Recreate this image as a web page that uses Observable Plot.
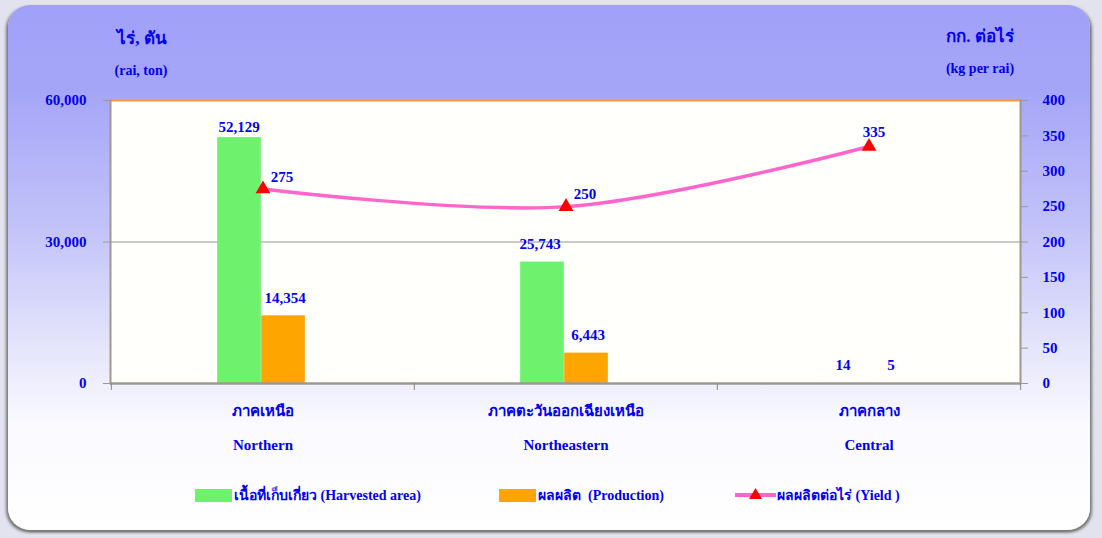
<!DOCTYPE html>
<html><head><meta charset="utf-8">
<script src="https://cdn.jsdelivr.net/npm/d3@7"></script>
<script src="https://cdn.jsdelivr.net/npm/@observablehq/plot@0.6"></script>
<style>
html,body{margin:0;padding:0;}
body{background:#e3e3ef;width:1102px;height:538px;overflow:hidden;position:relative;font-family:"Liberation Serif",serif;}
#panel{position:absolute;left:8px;top:5px;width:1082px;height:525px;border-radius:22px;
 background:linear-gradient(to bottom,#a0a0f8 0%,#a5a5f8 16%,#c2c2f9 42%,#e6e6fc 66%,#fafaff 80%,#ffffff 100%);
 box-shadow:-2px 2px 3px #777, 2px 2px 3px #777;}
#chart{position:absolute;left:0;top:0;}
.lab{position:absolute;color:#0000ee;font-weight:bold;white-space:nowrap;transform:translate(-50%,-50%);}
#legend{position:absolute;top:484px;left:0;width:1102px;height:20px;}
.li{position:absolute;top:0;display:flex;align-items:center;color:#0000ee;font-weight:bold;font-size:14px;white-space:pre;}
.sw{width:37px;height:13px;display:inline-block;margin-right:2px;}
</style></head>
<body>
<div id="panel"></div>
<div class="lab" style="left:142px;top:37px;font-size:17px;">ไร่, ตัน</div>
<div class="lab" style="left:141px;top:71px;font-size:14px;">(rai, ton)</div>
<div class="lab" style="left:980px;top:35px;font-size:17px;">กก. ต่อไร่</div>
<div class="lab" style="left:980px;top:69px;font-size:14px;">(kg per rai)</div>
<div id="chart"></div>
<div id="legend"></div>
<script>
const regionsThai = ["ภาคเหนือ", "ภาคตะวันออกเฉียงเหนือ", "ภาคกลาง"];
const regionsEn = ["Northern", "Northeastern", "Central"];
const harvestedArea = [52129, 25743, 14];
const production = [14354, 6443, 5];
const yieldPerRai = [275, 250, 335];
const leftTicks = [0, 30000, 60000];
const rightTicks = [0, 50, 100, 150, 200, 250, 300, 350, 400];
const seriesNames = ["เนื้อที่เก็บเกี่ยว (Harvested area)", "ผลผลิต  (Production)", "ผลผลิตต่อไร่ (Yield )"];

const rows = regionsEn.map((r, i) => ({region: r, thai: regionsThai[i], area: harvestedArea[i], prod: production[i], yld: yieldPerRai[i]}));
const K = 60000 / 400;
const W = 1102, H = 470, mL = 110, mR = 82, mT = 100, mB = 87;
const bw = (W - mL - mR) / 3;
const barW = 44;
const sh = 1.5;
const blue = "#0000ee";
const font = {fill: blue, fontWeight: "bold", fontFamily: "Liberation Serif", fontSize: 15};

const chart = Plot.plot({
  width: W, height: H,
  marginLeft: mL, marginRight: mR, marginTop: mT, marginBottom: mB,
  style: {background: "transparent", fontFamily: "Liberation Serif", overflow: "visible"},
  x: {type: "band", domain: regionsEn, padding: 0, axis: null, label: null},
  y: {domain: [0, 60000], axis: null, label: null},
  marks: [
    Plot.frame({fill: "#fffffc", stroke: null}),
    Plot.ruleY([30000], {stroke: "#b8b8b8", strokeWidth: 1.5}),
    Plot.ruleY([60000], {stroke: "#ff9933", strokeWidth: 2}),
    Plot.barY(rows, {x: "region", y: "area", fill: "#6ef26e", insetLeft: bw / 2 - barW - sh, insetRight: bw / 2 + sh}),
    Plot.barY(rows, {x: "region", y: "prod", fill: "#ffa500", insetLeft: bw / 2 - sh, insetRight: bw / 2 - barW + sh}),
    Plot.frame({anchor: "left", stroke: "#a09890", strokeWidth: 2}),
    Plot.frame({anchor: "right", stroke: "#a09890", strokeWidth: 2}),
    Plot.ruleY([0], {stroke: "#a09890", strokeWidth: 2.5}),
    Plot.axisY({anchor: "left", ticks: leftTicks, tickSize: 7, tickPadding: 17, tickFormat: d3.format(","), stroke: "#a09890", label: null, ...font}),
    Plot.axisY({anchor: "right", ticks: rightTicks.map(v => v * K), tickSize: 7, tickPadding: 15, tickFormat: d => d / K, stroke: "#a09890", textAnchor: "start", label: null, ...font}),
    Plot.axisX({ticks: regionsEn, tickSize: 7, dx: -bw / 2, tickFormat: () => "", stroke: "#888", label: null}),
    Plot.axisX({ticks: regionsEn.slice(-1), tickSize: 7, dx: bw / 2, tickFormat: () => "", stroke: "#888", label: null}),
    Plot.line(rows, {x: "region", y: d => d.yld * K, stroke: "#ff66cc", strokeWidth: 3.5, curve: "catmull-rom"}),
    Plot.dot(rows, {x: "region", y: d => d.yld * K, symbol: "triangle", fill: "#ff0000", r: 5.5}),
    Plot.text(rows.filter(d => d.area > 50000), {x: "region", y: "area", text: d => d3.format(",")(d.area), dx: -barW / 2 - 2, dy: -10, ...font}),
    Plot.text(rows.filter(d => d.area <= 50000), {x: "region", y: "area", text: d => d3.format(",")(d.area), dx: -barW / 2 - 4, dy: -18, ...font}),
    Plot.text(rows, {x: "region", y: "prod", text: d => d3.format(",")(d.prod), dx: barW / 2, dy: -18, ...font}),
    Plot.text(rows.slice(0, 2), {x: "region", y: d => d.yld * K, text: "yld", dx: 19, dy: -12, ...font}),
    Plot.text(rows.slice(2), {x: "region", y: d => d.yld * K, text: "yld", dx: 5, dy: -14, ...font}),
    Plot.text(rows, {x: "region", text: "thai", frameAnchor: "bottom", dy: 32, ...font}),
    Plot.text(rows, {x: "region", text: "region", frameAnchor: "bottom", dy: 66, ...font})
  ]
});
document.getElementById("chart").appendChild(chart);

const lg = document.getElementById("legend");
lg.innerHTML = `
 <div class="li" style="left:195px"><span class="sw" style="background:#6ef26e"></span>${seriesNames[0]}</div>
 <div class="li" style="left:499px"><span class="sw" style="background:#ffa500"></span>${seriesNames[1]}</div>
 <div class="li" style="left:735px"><svg width="41" height="16" style="margin-right:1px"><line x1="0" x2="41" y1="8" y2="8" stroke="#ff66cc" stroke-width="4"/><path d="M20.5,1 L27,12 L14,12 Z" fill="#ff0000"/></svg>${seriesNames[2]}</div>`;
</script>
</body></html>
